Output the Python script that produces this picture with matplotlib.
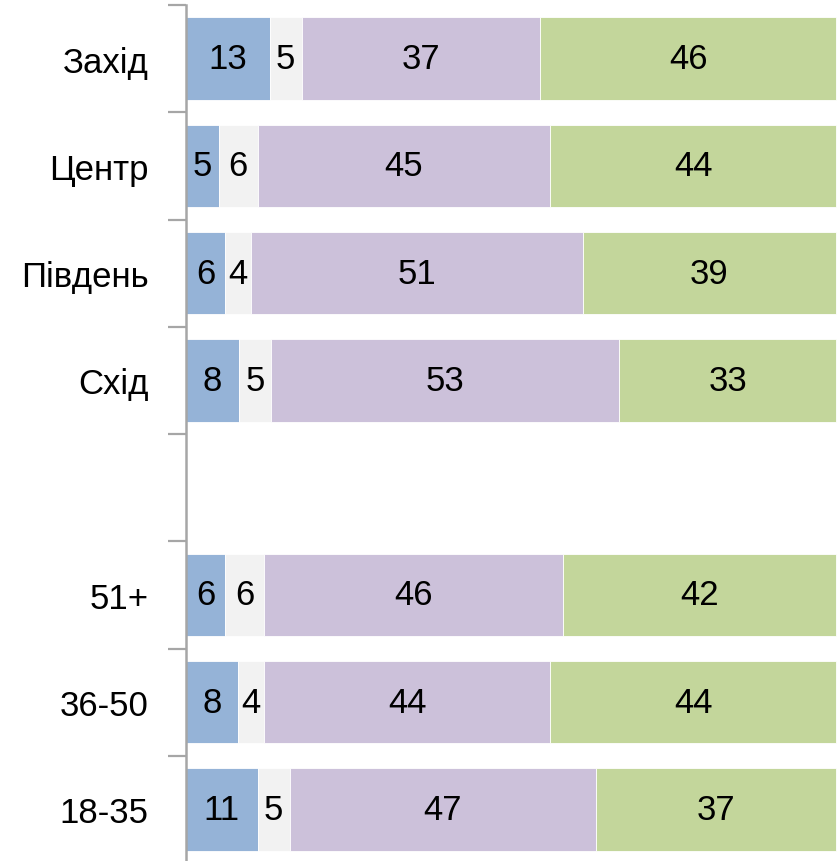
import matplotlib
matplotlib.use("Agg")
import matplotlib.pyplot as plt
import numpy as np

# rows top to bottom; blank slot separates regions from age groups
categories = ["Захід", "Центр", "Південь", "Схід", "", "51+", "36-50", "18-35"]
seg_a = [13, 5, 6, 8, None, 6, 8, 11]
seg_b = [5, 6, 4, 5, None, 6, 4, 5]
seg_c = [37, 45, 51, 53, None, 46, 44, 47]
seg_d = [46, 44, 39, 33, None, 42, 44, 37]

COLORS = ["#95B3D7", "#F2F2F2", "#CCC1DA", "#C3D69B"]
FONT = ["Liberation Sans Narrow", "Liberation Sans", "DejaVu Sans"]

plt.rcParams["font.family"] = FONT

fig = plt.figure(figsize=(8.38, 8.62), dpi=100)
ax = fig.add_axes([186 / 838, -2 / 862, 652 / 838, 858 / 862])

n = len(categories)
ypos = np.arange(n)
series = [seg_a, seg_b, seg_c, seg_d]

for i in range(n):
    if seg_a[i] is None:
        continue
    vals = [s[i] for s in series]
    total = sum(vals)
    left = 0.0
    for v, c in zip(vals, COLORS):
        w = v / total * 100
        ax.barh(ypos[i], w, left=left, height=0.77, color=c, edgecolor="white", linewidth=0.6)
        ax.text(left + w / 2, ypos[i], str(v), ha="center", va="center",
                fontsize=25, color="black")
        left += w

ax.set_xlim(0, 100.3)
ax.set_ylim(n - 0.5, -0.5)
ax.set_yticks(ypos)
ax.set_yticklabels(categories, fontsize=25)
ax.tick_params(axis="y", which="major", length=0, pad=27)
ax.set_yticks(np.arange(n + 1) - 0.5, minor=True)
ax.tick_params(axis="y", which="minor", length=13, width=1.6, color="#A6A6A6")
ax.set_xticks([])
for side in ["top", "right", "bottom"]:
    ax.spines[side].set_visible(False)
ax.spines["left"].set_color("#A6A6A6")
ax.spines["left"].set_linewidth(1.8)

fig.savefig("out.png", dpi=100)
